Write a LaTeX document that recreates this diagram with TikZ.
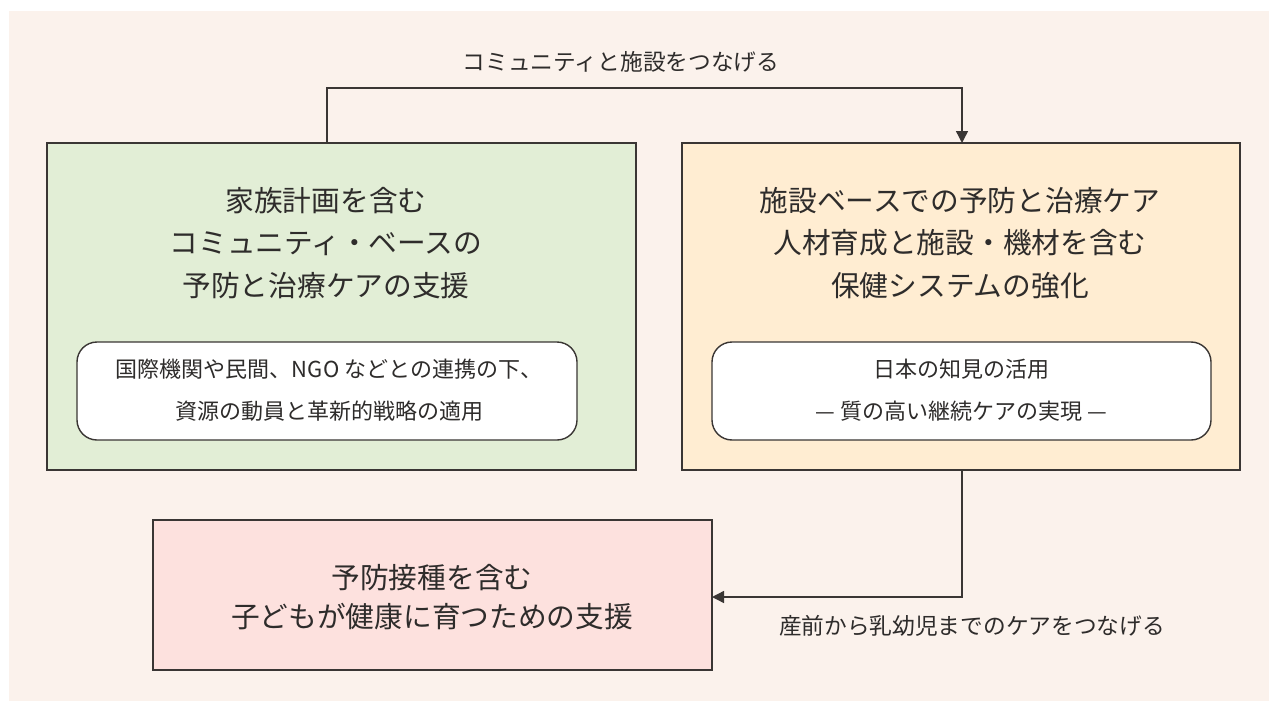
\documentclass[tikz,border=0pt]{standalone}
\usepackage{fontspec}
\setmainfont{Noto Sans CJK JP}
\usetikzlibrary{arrows.meta}
\definecolor{bgc}{HTML}{FBF2EC}
\definecolor{greenc}{HTML}{E2EED6}
\definecolor{orangec}{HTML}{FFEDD2}
\definecolor{pinkc}{HTML}{FDE1DE}
\definecolor{linec}{HTML}{3A3634}
\definecolor{textc}{HTML}{2E2C2B}
\tikzset{
  box/.style={draw=linec, line width=1.6pt, rectangle, inner sep=0pt, outer sep=0pt},
  inbox/.style={draw=linec, line width=1.4pt, fill=white, rounded corners=20pt, inner sep=0pt, outer sep=0pt},
  title/.style={text=textc, align=center, font=\fontsize{28.7}{42.5}\selectfont, inner sep=0pt},
  sub/.style={text=textc, align=center, font=\fontsize{22}{42}\selectfont, inner sep=0pt},
  lab/.style={text=textc, font=\fontsize{22.7}{26}\selectfont, inner sep=0pt},
  arr/.style={draw=linec, line width=1.4pt, -{Triangle[length=12pt,width=12pt]}}
}
\begin{document}
\begin{tikzpicture}[x=1pt,y=-1pt]
\useasboundingbox (0,0) rectangle (1269,701);
\fill[bgc] (9,11) rectangle (1269,701);
% boxes
\node[box, fill=greenc, minimum width=589pt, minimum height=327pt] (g) at (341.5,306.5) {};
\node[box, fill=orangec, minimum width=558pt, minimum height=327pt] (o) at (961,306.5) {};
\node[box, fill=pinkc, minimum width=559pt, minimum height=150pt] (p) at (432.5,595) {};
\node[inbox, minimum width=500pt, minimum height=98pt] (gi) at (327,391) {};
\node[inbox, minimum width=499pt, minimum height=98pt] (oi) at (961.5,391) {};
% texts
\node[title] (gt) at (326,243) {家族計画を含む\\コミュニティ・ベースの\\予防と治療ケアの支援};
\node[title] (ot) at (960,243) {施設ベースでの予防と治療ケア\\人材育成と施設・機材を含む\\保健システムの強化};
\node[title, font=\fontsize{28.7}{39}\selectfont] (pt) at (432,597.5) {予防接種を含む\\子どもが健康に育つための支援};
\node[sub] (git) at (329,390) {国際機関や民間、NGO などとの連携の下、\\資源の動員と革新的戦略の適用};
\node[sub] (oit) at (961.5,390) {日本の知見の活用\\— 質の高い継続ケアの実現 —};
\node[lab] (l1) at (621,62) {コミュニティと施設をつなげる};
\node[lab] (l2) at (972,626) {産前から乳幼児までのケアをつなげる};
% connectors
\coordinate (tl) at (327,88);
\coordinate (tr) at (962,88);
\coordinate (br) at (962,597);
\draw[arr] (tl |- g.north) -- (tl) -- (tr) -- (tr |- o.north);
\draw[arr] (br |- o.south) -- (br) -- (br -| p.east);
\end{tikzpicture}
\end{document}
